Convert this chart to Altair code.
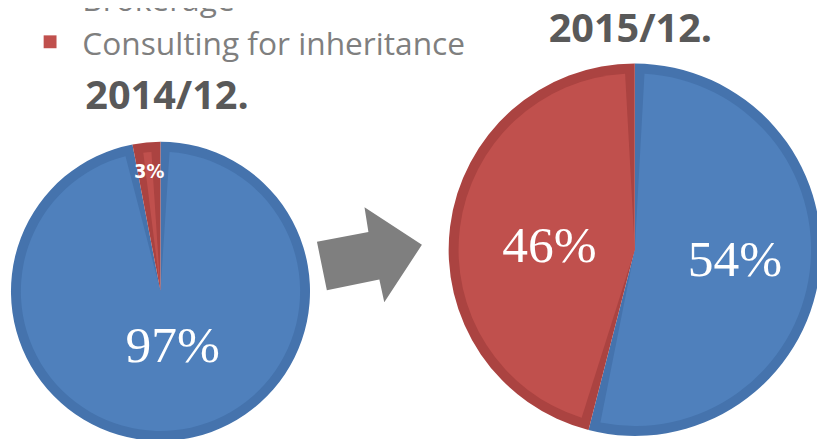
import altair as alt
import pandas as pd

# ---- data ----
periods = ["2014/12.", "2015/12."]
segments = ["Brokerage", "Consulting for inheritance"]
share_2014 = [97, 3]
share_2015 = [54, 46]

fill_light = ["#4f80bc", "#c0504d"]
fill_dark = ["#4573ad", "#ab4341"]

rows = []
for p, shares in zip(periods, [share_2014, share_2015]):
    for i, (s, v) in enumerate(zip(segments, shares)):
        rows.append({"period": p, "segment": s, "share": v, "order": i, "label": f"{v}%"})
df = pd.DataFrame(rows)

tone_domain = [s + "|dark" for s in segments] + [s + "|light" for s in segments]
tone_scale = alt.Scale(domain=tone_domain, range=fill_dark + fill_light)
theta_scale = alt.Scale(domain=[0, 100])

base = alt.Chart(df).transform_stack(
    stack="share",
    groupby=["period"],
    sort=[alt.SortField("order", order="ascending")],
    as_=["s0", "s1"],
).transform_calculate(mid="(datum.s0 + datum.s1) / 2")


def pie(p, cx, cy, R, band, pad):
    b = base.transform_filter(alt.datum.period == p)
    enc = dict(
        theta=alt.Theta("s0:Q", scale=theta_scale, stack=None),
        theta2="s1:Q",
        fill=alt.Fill("tone:N", scale=tone_scale, legend=None),
        x=alt.value(cx),
        y=alt.value(cy),
    )
    dark = b.transform_calculate(tone="datum.segment + '|dark'").mark_arc(
        outerRadius=R, strokeWidth=0
    ).encode(**enc)
    light = b.transform_calculate(tone="datum.segment + '|light'").mark_arc(
        outerRadius=R - band, padAngle=pad, strokeWidth=0
    ).encode(**enc)
    return b, [dark, light]


def label(b, seg, cx, cy, r, **style):
    return b.transform_filter(alt.datum.segment == seg).mark_text(
        radius=r, color="white", align="center", baseline="middle", **style
    ).encode(
        theta=alt.Theta("mid:Q", scale=theta_scale, stack=None),
        text="label:N",
        x=alt.value(cx),
        y=alt.value(cy),
    )


serif = dict(font="Liberation Serif", fontSize=52)

b1, arcs1 = pie(periods[0], 154, 284, 151, 10, 0.13)
b2, arcs2 = pie(periods[1], 633, 242, 188, 10, 0.11)

labels = [
    label(b1, segments[0], 154, 284, 56, dx=7, **serif),
    label(b1, segments[1], 154, 284, 121,
          font="'DejaVu Sans Condensed', 'Liberation Sans', sans-serif", fontSize=20, fontWeight="bold"),
    label(b2, segments[1], 633, 242, 92, dx=5, dy=8, **serif),
    label(b2, segments[0], 633, 242, 98, dx=4, dy=-2, **serif),
]

title_df = pd.DataFrame({"period": periods})


def title(p, tx, ty):
    return alt.Chart(title_df).transform_filter(alt.datum.period == p).mark_text(
        align="left", baseline="alphabetic", font="Open Sans", fontWeight="bold",
        fontSize=40, color="#595959"
    ).encode(text="period:N", x=alt.value(tx), y=alt.value(ty))


titles = [title(periods[0], 78, 100), title(periods[1], 546, 32)]

# ---- legend ----
leg_df = pd.DataFrame({"segment": segments})
leg_y = alt.Y("segment:N", scale=alt.Scale(domain=segments, range=[-12, 32], padding=0), axis=None)
leg_sq = alt.Chart(leg_df).transform_calculate(tone="datum.segment + '|light'").mark_square(
    size=169, opacity=1, strokeWidth=0
).encode(
    y=leg_y, x=alt.value(42.5), fill=alt.Fill("tone:N", scale=tone_scale, legend=None)
)
leg_tx = alt.Chart(leg_df).mark_text(
    align="left", baseline="alphabetic", dy=13, font="Open Sans", fontSize=32, color="#7f7f7f"
).encode(y=leg_y, x=alt.value(75), text="segment:N")

# ---- arrow ----
arrow_path = "M-1,-0.245 L-0.019,-0.434 L-0.094,-0.906 L1,-0.189 L0.283,0.906 L0.189,0.472 L-0.811,0.679 Z"
arrow = alt.Chart(pd.DataFrame({"a": [0]})).mark_point(
    shape=arrow_path, size=11236, filled=True, color="#7f7f7f", opacity=1, strokeWidth=0
).encode(x=alt.value(365), y=alt.value(247))

chart = alt.layer(
    *arcs1, *arcs2, *labels, *titles, leg_sq, leg_tx, arrow
).properties(
    width=817, height=431, padding=0, autosize=alt.AutoSizeParams(type="none")
).configure_view(stroke=None)

chart.save("out.html", embed_options={"renderer": "svg", "actions": False})
